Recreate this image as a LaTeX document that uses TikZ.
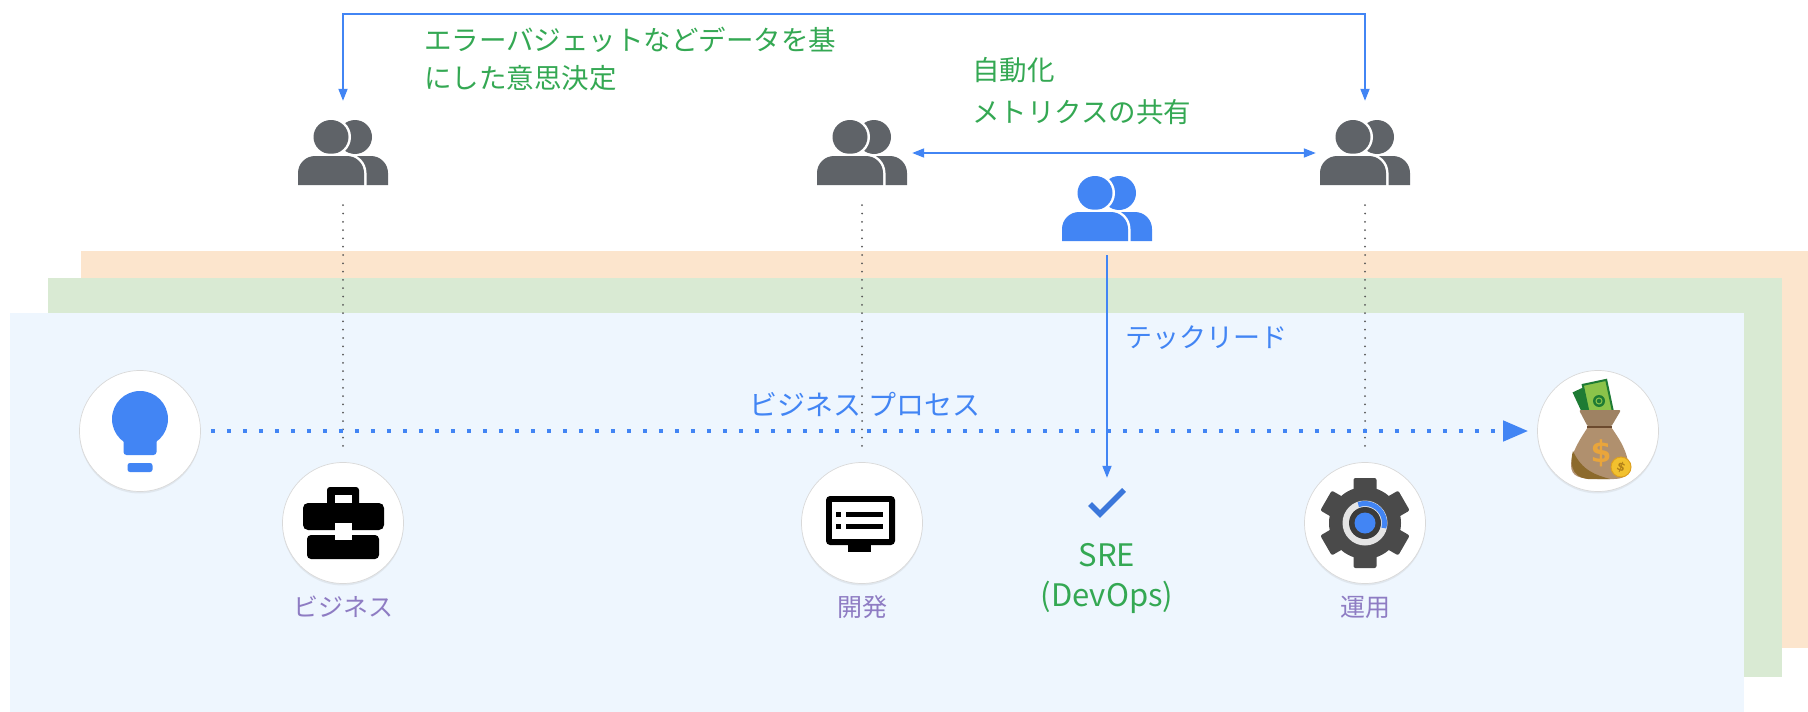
\documentclass[tikz,border=0pt]{standalone}
\usepackage{fontspec}
\setmainfont{Noto Sans CJK JP}
\newfontfamily\signfont{DejaVu Sans}
\usepackage{tikz}
\usetikzlibrary{arrows.meta,positioning,calc,shadows}

\definecolor{gblue}{HTML}{4285F4}
\definecolor{ggreen}{HTML}{34A853}
\definecolor{gpurple}{HTML}{8E7CC3}
\definecolor{ggrey}{HTML}{5F6368}
\definecolor{bandorange}{HTML}{FCE5CD}
\definecolor{bandgreen}{HTML}{D9EAD3}
\definecolor{bandblue}{HTML}{EEF6FE}
\definecolor{gearcol}{HTML}{4A4A4A}
\definecolor{ringgrey}{HTML}{E4E4E4}
\definecolor{checkblue}{HTML}{3B77DB}
\definecolor{billdark}{HTML}{1E7B34}
\definecolor{billlight}{HTML}{8BC34A}
\definecolor{bagtan}{HTML}{B0906E}
\definecolor{bagshade}{HTML}{8C6A2C}
\definecolor{tiebrown}{HTML}{6B4A2E}
\definecolor{dollarorange}{HTML}{E9A53B}
\definecolor{coinyellow}{HTML}{F2C12E}
\definecolor{coinedge}{HTML}{DDA020}

% upper body of one person, #1 = left edge
\newcommand\bodyshape[1]{(#1,32) -- (#1,20) arc[start angle=180,end angle=270,radius=17] -- ({#1+49},3) arc[start angle=270,end angle=360,radius=17] -- ({#1+66},32) -- cycle}

\tikzset{
	pics/people/.style={code={
		\node[minimum width=90pt,minimum height=64pt,inner sep=0pt] (-box) {};
		\fill[#1] (12,-16) circle[radius=17];
		\fill[#1] \bodyshape{-21};
		\draw[white,line width=5pt] (-12,-16) ellipse[x radius=17.5,y radius=17];
		\fill[#1] (-12,-16) ellipse[x radius=17.5,y radius=17];
		\draw[white,line width=5pt] \bodyshape{-45};
		\fill[#1] \bodyshape{-45};
	}}
}

\begin{document}
\begin{tikzpicture}[x=1pt,y=-1pt,>={Triangle[length=12pt,width=9pt]},
	disc/.style={circle,fill=white,draw=black!15,line width=0.7pt,minimum size=121pt,inner sep=0pt,
		drop shadow={opacity=0.12,shadow xshift=0pt,shadow yshift=-2pt}},
	link/.style={draw=gblue,line width=1.8pt},
	guide/.style={draw=black!65,line width=2pt,line cap=round,dash pattern=on 0pt off 8.3pt,shorten <=20pt,shorten >=8pt},
	process/.style={draw=gblue,line width=4.5pt,dash pattern=on 4.5pt off 11.5pt,shorten <=10pt,shorten >=9pt,
		-{Triangle[length=25pt,width=20pt]}},
	note/.style={text=ggreen,align=left,inner sep=0pt,font=\fontsize{27.5}{42}\selectfont},
	tag/.style={text=gblue,inner sep=0pt,font=\fontsize{27}{32}\selectfont},
	role/.style={text=gpurple,inner sep=0pt,font=\fontsize{25}{30}\selectfont}]
\useasboundingbox (0,0) rectangle (1808,712);

% stacked bands
\fill[bandorange] (81,251) rectangle (1808,648);
\fill[bandgreen] (48,278) rectangle (1782,677);
\fill[bandblue] (10,313) rectangle (1744,712);

% teams
\pic (pBiz) at (343,153) {people=ggrey};
\pic (pDev) at (862,153) {people=ggrey};
\pic (pOps) at (1365,153) {people=ggrey};
\pic (pSre) at (1107,209) {people=gblue};

% steps of the process
\node[disc] (cIdea) at (140,431) {};
\node[disc] (cBiz) at (343,523) {};
\node[disc] (cDev) at (862,523) {};
\node[disc] (cOps) at (1365,523) {};
\node[disc] (cMoney) at (1598,431) {};
\node[minimum size=26pt,inner sep=0pt] (chk) at (1107,503) {};

\draw[guide] (pBiz-box.south) -- (cBiz.north);
\draw[guide] (pDev-box.south) -- (cDev.north);
\draw[guide] (pOps-box.south) -- (cOps.north);

\draw[link,<->,shorten <=20pt,shorten >=20pt] (pBiz-box.north) -- ++(0,-107) -| (pOps-box.north);
\draw[link,<->,shorten <=5pt,shorten >=4pt] (pDev-box.east) -- (pOps-box.west);
\draw[link,->,shorten <=14pt,shorten >=12pt] (pSre-box.south) -- (chk.north);
\draw[process] (cIdea) -- (cMoney);

% light bulb
\begin{scope}[shift={(cIdea.center)},gblue]
	\fill (0,-12) circle[radius=28];
	\fill[rounded corners=3pt] (-16.5,0) rectangle (16.5,24);
	\fill[rounded corners=2.5pt] (-12.5,32) rectangle (12.5,41);
\end{scope}

% briefcase
\begin{scope}[shift={(cBiz.center)}]
	\fill[rounded corners=3pt] (-16,-36) rectangle (16,-14);
	\fill[white] (-8,-28) rectangle (9,-20);
	\fill[rounded corners=5pt] (-40,-20) rectangle (41,7);
	\fill[rounded corners=4pt] (-36,12) rectangle (36,36);
	\fill[white] (-8,0) rectangle (9,17);
\end{scope}

% monitor
\begin{scope}[shift={(cDev.center)}]
	\fill[rounded corners=4pt] (-36,-27) rectangle (33,22);
	\fill[white] (-30,-21) rectangle (27,16);
	\fill (-14,22) rectangle (9,29);
	\fill (-26,-11) rectangle (-21,-6);
	\fill (-16,-11) rectangle (21,-6);
	\fill (-26,1) rectangle (-21,6);
	\fill (-16,1) rectangle (21,6);
\end{scope}

% gear
\begin{scope}[shift={(cOps.center)}]
	\foreach \a in {0,60,...,300}
		\fill[gearcol,rotate=\a,rounded corners=2pt] (-11.5,-45) rectangle (11.5,-28);
	\fill[gearcol] (0,0) circle[radius=36];
	\fill[ringgrey] (0,0) circle[radius=22.5];
	\draw[gblue,line width=5pt] (-110:19.5) arc[start angle=-110,end angle=15,radius=19.5];
	\fill[gearcol!80!black] (0,0) circle[radius=16];
	\fill[gblue] (0,0) circle[radius=10.5];
\end{scope}

% money bag
\begin{scope}[shift={(cMoney.center)}]
	\fill[billdark,rotate around={25:(-6,-30)}] (-20,-46) rectangle (6,-14);
	\filldraw[fill=billlight,draw=billdark,line width=2pt,rotate around={12:(0,-32)}] (-12,-49) rectangle (12,-16);
	\fill[billdark] (1,-30) circle[radius=6];
	\draw[billlight,line width=1pt] (1,-30) circle[radius=3];
	\fill[bagtan] (-10,-4) .. controls (-18,8) and (-27,22) .. (-27,34) .. controls (-27,46) and (-18,48) .. (0,48) -- (16,48) .. controls (30,48) and (33,40) .. (30,30) .. controls (27,16) and (20,6) .. (13,-4) -- cycle;
	\fill[bagshade] (-25,20) .. controls (-28,30) and (-28,46) .. (-10,48) -- (12,48) .. controls (-2,44) and (-16,40) .. (-25,20) -- cycle;
	\fill[bagtan!90!black,rounded corners=2pt] (-19,-21) -- (23,-21) -- (13,-4) -- (-10,-4) -- cycle;
	\draw[tiebrown,line width=2pt] (-11,-4) -- (14,-4);
	\node[text=dollarorange,inner sep=0pt,font=\signfont\bfseries\fontsize{30}{30}\selectfont] (bigDollar) at (3,22) {\$};
	\filldraw[fill=coinyellow,draw=coinedge,line width=1pt] (23,36) circle[radius=10];
	\node[text=coinedge!80!black,inner sep=0pt,rotate=-20,font=\signfont\bfseries\fontsize{12}{12}\selectfont] (coinDollar) at (23,36) {\$};
\end{scope}

% check mark
\draw[checkblue,line width=5.5pt] ($(chk)+(-17,1)$) -- ($(chk)+(-7,11)$) -- ($(chk)+(17,-13)$);

% texts
\node[note,anchor=west,font=\fontsize{27.5}{38}\selectfont] (tDecide) at (424,59) {エラーバジェットなどデータを基\\にした意思決定};
\node[note,anchor=west] (tShare) at (972,91) {自動化\\メトリクスの共有};
\node[tag,anchor=west] (tLead) at (1125,338) {テックリード};
\node[tag,font=\fontsize{28}{32}\selectfont] (tProc) at (865,404) {ビジネス プロセス};
\node[text=ggreen,align=center,inner sep=0pt,font=\fontsize{31}{40}\selectfont] (tSre) at (1107,578) {SRE\\(DevOps)};
\node[role,below=12pt of cBiz] (lBiz) {ビジネス};
\node[role,below=12pt of cDev] (lDev) {開発};
\node[role,below=12pt of cOps] (lOps) {運用};
\end{tikzpicture}
\end{document}
